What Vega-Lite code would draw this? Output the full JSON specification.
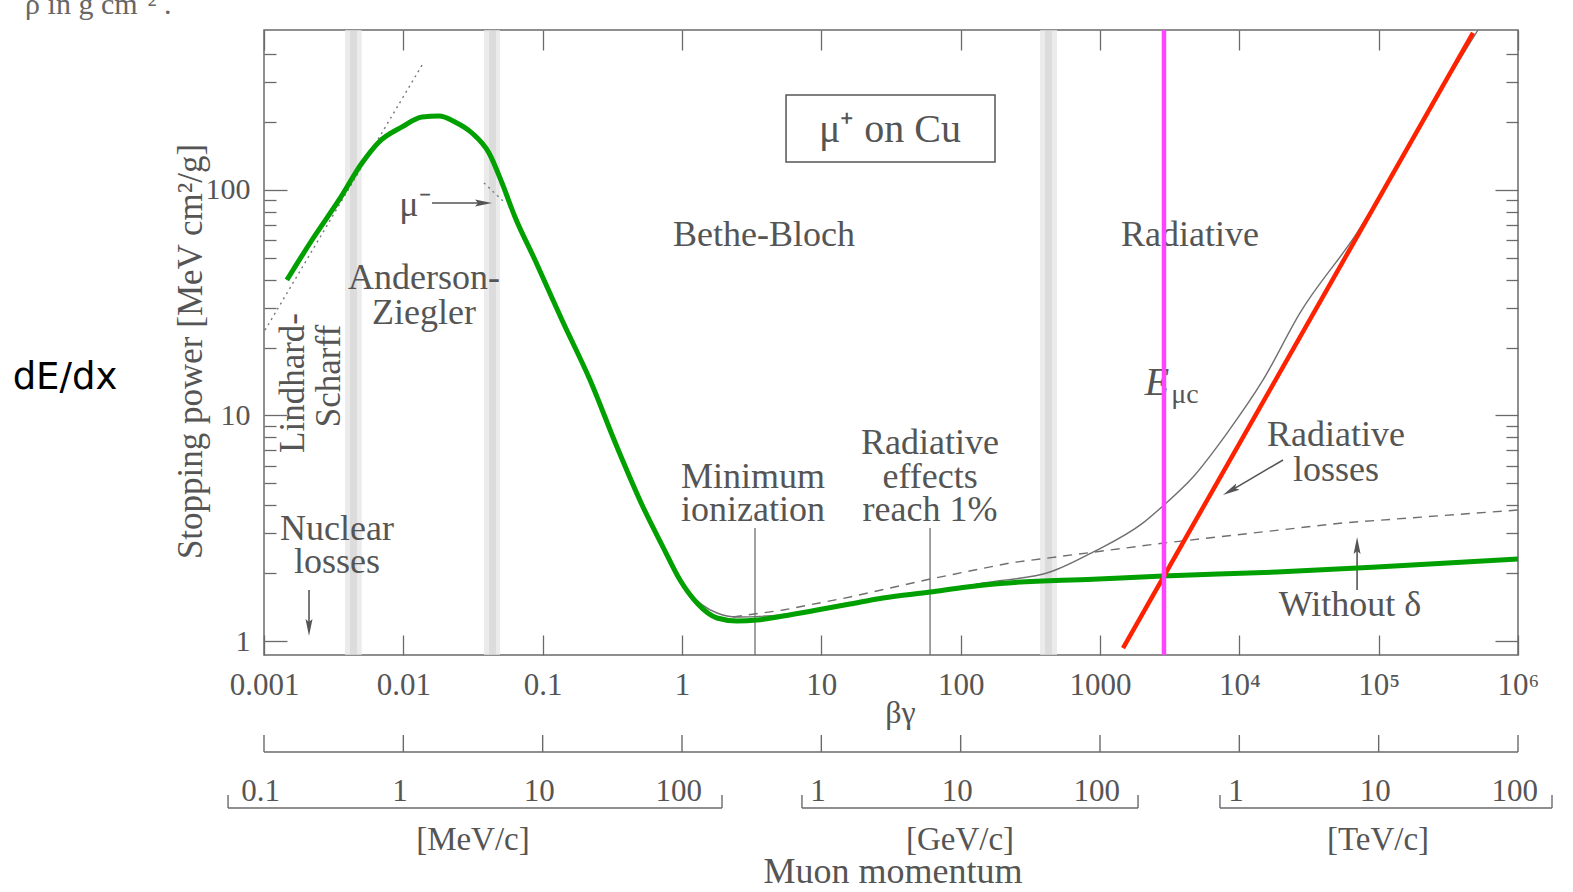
{
  "$schema": "https://vega.github.io/schema/vega-lite/v6.json",
  "width": 1254,
  "height": 625,
  "autosize": {"type": "none"},
  "padding": {"left": 264, "top": 30, "right": 55, "bottom": 237},
  "background": "white",
  "config": {
    "view": {"stroke": "#6a6a6a", "strokeWidth": 1.5},
    "text": {"font": "Liberation Serif", "fontSize": 36, "color": "#555555", "baseline": "middle", "align": "center"},
    "axis": {"grid": false, "domain": false, "tickColor": "#6a6a6a", "tickWidth": 1.3, "labelFont": "Liberation Serif", "labelColor": "#555555", "labelFontSize": 30, "titleFont": "Liberation Serif", "titleColor": "#555555", "titleFontWeight": "normal", "labelFlush": false, "labelOverlap": false}
  },
  "datasets": {
    "bandsOuter": [{"x": 0.003814, "x2": 0.005029}, {"x": 0.03793, "x2": 0.04942}, {"x": 371.2, "x2": 491.4}],
    "bandsInner": [{"x": 0.004143, "x2": 0.004652}, {"x": 0.0412, "x2": 0.04626}, {"x": 403.2, "x2": 452.4}],
    "lindhard": [{"x": 0.001017, "y": 23.9}, {"x": 0.01406, "y": 369.7}],
    "muminus": [{"x": 0.0379, "y": 107.4}, {"x": 0.0537, "y": 87.6}],
    "total": [{"x": 0.525, "y": 4.01}, {"x": 0.7306, "y": 2.666}, {"x": 0.9676, "y": 1.903}, {"x": 1.141, "y": 1.633}, {"x": 1.784, "y": 1.331}, {"x": 2.482, "y": 1.278}, {"x": 5.31, "y": 1.31}, {"x": 16.06, "y": 1.48}, {"x": 36.7, "y": 1.6}, {"x": 83.9, "y": 1.7}, {"x": 144.7, "y": 1.808}, {"x": 437.8, "y": 2.023}, {"x": 891, "y": 2.48}, {"x": 2037, "y": 3.34}, {"x": 2878, "y": 4.01}, {"x": 4656, "y": 5.34}, {"x": 8166, "y": 8.36}, {"x": 14800, "y": 14.37}, {"x": 27260, "y": 28.5}, {"x": 69900, "y": 64.5}, {"x": 198200, "y": 194}, {"x": 516000, "y": 512}],
    "noDensity": [{"x": 2.32, "y": 1.278}, {"x": 5.31, "y": 1.372}, {"x": 16.06, "y": 1.567}, {"x": 60.3, "y": 1.883}, {"x": 226, "y": 2.22}, {"x": 2878, "y": 2.72}, {"x": 55460, "y": 3.34}, {"x": 1000000, "y": 3.81}],
    "markerLines": [{"x": 3.342, "y": 3.17, "y2": 0.867}, {"x": 60.3, "y": 3.17, "y2": 0.867}],
    "labelBox": [{"x": 5.58, "x2": 176.4, "y": 263.9, "y2": 133.1}],
    "notes": [
      {"x": 3.88, "y": 63.2, "t": "Bethe-Bloch"},
      {"x": 4426, "y": 63.2, "t": "Radiative"},
      {"x": 0.01409, "y": 40.7, "t": "Anderson-"},
      {"x": 0.01409, "y": 28.5, "t": "Ziegler"},
      {"x": 0.00334, "y": 3.14, "t": "Nuclear"},
      {"x": 0.00334, "y": 2.24, "t": "losses"},
      {"x": 3.234, "y": 5.34, "t": "Minimum"},
      {"x": 3.234, "y": 3.81, "t": "ionization"},
      {"x": 60.3, "y": 7.55, "t": "Radiative"},
      {"x": 60.3, "y": 5.34, "t": "effects"},
      {"x": 60.3, "y": 3.81, "t": "reach 1%"},
      {"x": 49430, "y": 8.2, "t": "Radiative"},
      {"x": 49430, "y": 5.73, "t": "losses"},
      {"x": 62230, "y": 1.444, "t": "Without δ"},
      {"x": 0.01213, "y": 85.8, "t": "μ⁻"}
    ],
    "rotated": [{"x": 0.00162, "y": 13.94, "t": "Lindhard-"}, {"x": 0.002934, "y": 14.97, "t": "Scharff"}],
    "boxLabel": [{"x": 31.1, "y": 184.5, "t": "μ⁺ on Cu"}],
    "eLabel": [{"x": 2565, "y": 13.94, "t": "E"}],
    "ecLabel": [{"x": 4075, "y": 12.33, "t": "μc"}],
    "arrows": [
      {"x": 0.01606, "y": 87.6, "x2": 0.0367, "y2": 87.6},
      {"x": 0.002104, "y": 1.683, "x2": 0.002104, "y2": 1.166},
      {"x": 70000, "y": 1.683, "x2": 70000, "y2": 2.61},
      {"x": 20590, "y": 6.35, "x2": 8818, "y2": 4.67}
    ],
    "headRight": [{"x": 0.0367, "y": 87.6}],
    "headDown": [{"x": 0.002104, "y": 1.166}],
    "headUp": [{"x": 70000, "y": 2.61}],
    "headDiag": [{"x": 8818, "y": 4.67}],
    "pAxis": [{"x": 0.001, "x2": 1000000, "y": 0.322}],
    "pTicks": [{"x": 0.001, "y": 0.322, "y2": 0.383}, {"x": 0.01, "y": 0.322, "y2": 0.383}, {"x": 0.1, "y": 0.322, "y2": 0.383}, {"x": 1, "y": 0.322, "y2": 0.383}, {"x": 10, "y": 0.322, "y2": 0.383}, {"x": 100, "y": 0.322, "y2": 0.383}, {"x": 1000, "y": 0.322, "y2": 0.383}, {"x": 10000, "y": 0.322, "y2": 0.383}, {"x": 100000, "y": 0.322, "y2": 0.383}, {"x": 1000000, "y": 0.322, "y2": 0.383}],
    "pBrackets": [{"x": 0.000552, "x2": 1.937, "y": 0.1817}, {"x": 7.26, "x2": 1875, "y": 0.1817}, {"x": 7262, "x2": 1754000, "y": 0.1817}],
    "pBracketEnds": [{"x": 0.000552, "y": 0.1817, "y2": 0.2075}, {"x": 1.937, "y": 0.1817, "y2": 0.2075}, {"x": 7.26, "y": 0.1817, "y2": 0.2075}, {"x": 1875, "y": 0.1817, "y2": 0.2075}, {"x": 7262, "y": 0.1817, "y2": 0.2075}, {"x": 1754000, "y": 0.1817, "y2": 0.2075}],
    "pLabels": [{"x": 0.000946, "y": 0.214, "t": "0.1"}, {"x": 0.00946, "y": 0.214, "t": "1"}, {"x": 0.0946, "y": 0.214, "t": "10"}, {"x": 0.946, "y": 0.214, "t": "100"}, {"x": 9.46, "y": 0.214, "t": "1"}, {"x": 94.6, "y": 0.214, "t": "10"}, {"x": 946, "y": 0.214, "t": "100"}, {"x": 9464, "y": 0.214, "t": "1"}, {"x": 94640, "y": 0.214, "t": "10"}, {"x": 946400, "y": 0.214, "t": "100"}],
    "pUnits": [{"x": 0.0316, "y": 0.131, "t": "[MeV/c]"}, {"x": 98.9, "y": 0.131, "t": "[GeV/c]"}, {"x": 98900, "y": 0.131, "t": "[TeV/c]"}],
    "pTitle": [{"x": 32.7, "y": 0.0945, "t": "Muon momentum"}],
    "side": [{"x": 0.0000373, "y": 14.67, "t": "dE/dx"}],
    "scrap": [{"x": 0.0000193, "y": 603, "t": "ρ in g cm⁻²   ."}],
    "green": [{"x": 0.00146, "y": 39.9}, {"x": 0.00221, "y": 60.0}, {"x": 0.003454, "y": 90.3}, {"x": 0.00505, "y": 131.7}, {"x": 0.00669, "y": 163.3}, {"x": 0.00978, "y": 190.3}, {"x": 0.01361, "y": 210.7}, {"x": 0.01803, "y": 212.9}, {"x": 0.02349, "y": 200.3}, {"x": 0.03111, "y": 178.9}, {"x": 0.0412, "y": 145.9}, {"x": 0.05107, "y": 107.4}, {"x": 0.06329, "y": 75.9}, {"x": 0.0881, "y": 48.9}, {"x": 0.1376, "y": 26.5}, {"x": 0.2187, "y": 14.37}, {"x": 0.3416, "y": 7.25}, {"x": 0.525, "y": 3.93}, {"x": 0.7306, "y": 2.61}, {"x": 0.9676, "y": 1.864}, {"x": 1.281, "y": 1.474}, {"x": 1.784, "y": 1.265}, {"x": 2.482, "y": 1.227}, {"x": 3.453, "y": 1.239}, {"x": 5.31, "y": 1.291}, {"x": 9.31, "y": 1.372}, {"x": 16.06, "y": 1.459}, {"x": 27.7, "y": 1.551}, {"x": 60.3, "y": 1.649}, {"x": 111, "y": 1.736}, {"x": 191.6, "y": 1.8}, {"x": 891, "y": 1.88}, {"x": 2831, "y": 1.942}, {"x": 18620, "y": 2.023}, {"x": 97200, "y": 2.129}, {"x": 1000000, "y": 2.31}],
    "red": [{"x": 1463, "y": 0.931}, {"x": 475500, "y": 497}],
    "pink": [{"x": 2878}]
  },
  "layer": [
    {"data": {"name": "bandsOuter"}, "mark": {"type": "rect", "color": "#e4e4e4", "opacity": 0.75},
     "encoding": {"x": {"field": "x", "type": "quantitative", "scale": {"type": "log", "domain": [0.001, 1000000], "nice": false}, "axis": null}, "x2": {"field": "x2"}}},
    {"data": {"name": "bandsInner"}, "mark": {"type": "rect", "color": "#cfcfcf", "opacity": 0.55},
     "encoding": {"x": {"field": "x", "type": "quantitative", "scale": {"type": "log", "domain": [0.001, 1000000], "nice": false}, "axis": null}, "x2": {"field": "x2"}}},
    {"data": {"name": "lindhard"}, "mark": {"type": "line", "color": "#777777", "strokeWidth": 1.4, "strokeDash": [2, 4]},
     "encoding": {"x": {"field": "x", "type": "quantitative", "scale": {"type": "log", "domain": [0.001, 1000000], "nice": false}, "axis": null}, "y": {"field": "y", "type": "quantitative", "scale": {"type": "log", "domain": [0.867, 512], "nice": false}, "axis": null}}},
    {"data": {"name": "muminus"}, "mark": {"type": "line", "color": "#777777", "strokeWidth": 1.4, "strokeDash": [2, 4]},
     "encoding": {"x": {"field": "x", "type": "quantitative", "scale": {"type": "log", "domain": [0.001, 1000000], "nice": false}, "axis": null}, "y": {"field": "y", "type": "quantitative", "scale": {"type": "log", "domain": [0.867, 512], "nice": false}, "axis": null}}},
    {"data": {"name": "total"}, "mark": {"type": "line", "color": "#6f6f6f", "strokeWidth": 1.4, "interpolate": "monotone"},
     "encoding": {
       "x": {"field": "x", "type": "quantitative", "scale": {"type": "log", "domain": [0.001, 1000000], "nice": false}, "axis": {"orient": "top", "values": [0.001, 0.01, 0.1, 1, 10, 100, 1000, 10000, 100000, 1000000], "tickSize": -20, "labels": false, "title": null}},
       "y": {"field": "y", "type": "quantitative", "scale": {"type": "log", "domain": [0.867, 512], "nice": false}, "axis": {"orient": "right", "values": [1, 10, 100], "tickSize": -23, "labels": false, "title": null}}}},
    {"data": {"name": "noDensity"}, "mark": {"type": "line", "color": "#6f6f6f", "strokeWidth": 1.4, "strokeDash": [9, 7]},
     "encoding": {
       "x": {"field": "x", "type": "quantitative", "scale": {"type": "log", "domain": [0.001, 1000000], "nice": false}, "axis": null},
       "y": {"field": "y", "type": "quantitative", "scale": {"type": "log", "domain": [0.867, 512], "nice": false}, "axis": {"orient": "left", "values": [2, 3, 4, 5, 6, 7, 8, 9, 20, 30, 40, 50, 60, 70, 80, 90, 200, 300, 400], "tickSize": -12, "labels": false, "title": null}}}},
    {"data": {"name": "markerLines"}, "mark": {"type": "rule", "color": "#6f6f6f", "strokeWidth": 1.3},
     "encoding": {"x": {"field": "x", "type": "quantitative", "scale": {"type": "log", "domain": [0.001, 1000000], "nice": false}, "axis": null}, "y": {"field": "y", "type": "quantitative", "scale": {"type": "log", "domain": [0.867, 512], "nice": false}, "axis": null}, "y2": {"field": "y2"}}},
    {"data": {"name": "labelBox"}, "mark": {"type": "rect", "filled": false, "color": "#555555", "strokeWidth": 1.5},
     "encoding": {"x": {"field": "x", "type": "quantitative", "scale": {"type": "log", "domain": [0.001, 1000000], "nice": false}, "axis": null}, "x2": {"field": "x2"}, "y": {"field": "y", "type": "quantitative", "scale": {"type": "log", "domain": [0.867, 512], "nice": false}, "axis": null}, "y2": {"field": "y2"}}},
    {"data": {"name": "notes"}, "mark": {"type": "text"},
     "encoding": {"x": {"field": "x", "type": "quantitative", "scale": {"type": "log", "domain": [0.001, 1000000], "nice": false}, "axis": null}, "y": {"field": "y", "type": "quantitative", "scale": {"type": "log", "domain": [0.867, 512], "nice": false}, "axis": null}, "text": {"field": "t"}}},
    {"data": {"name": "rotated"}, "mark": {"type": "text", "angle": 270, "fontSize": 35},
     "encoding": {"x": {"field": "x", "type": "quantitative", "scale": {"type": "log", "domain": [0.001, 1000000], "nice": false}, "axis": null}, "y": {"field": "y", "type": "quantitative", "scale": {"type": "log", "domain": [0.867, 512], "nice": false}, "axis": null}, "text": {"field": "t"}}},
    {"data": {"name": "boxLabel"}, "mark": {"type": "text", "fontSize": 40},
     "encoding": {"x": {"field": "x", "type": "quantitative", "scale": {"type": "log", "domain": [0.001, 1000000], "nice": false}, "axis": null}, "y": {"field": "y", "type": "quantitative", "scale": {"type": "log", "domain": [0.867, 512], "nice": false}, "axis": null}, "text": {"field": "t"}}},
    {"data": {"name": "eLabel"}, "mark": {"type": "text", "fontSize": 40, "fontStyle": "italic"},
     "encoding": {"x": {"field": "x", "type": "quantitative", "scale": {"type": "log", "domain": [0.001, 1000000], "nice": false}, "axis": null}, "y": {"field": "y", "type": "quantitative", "scale": {"type": "log", "domain": [0.867, 512], "nice": false}, "axis": null}, "text": {"field": "t"}}},
    {"data": {"name": "ecLabel"}, "mark": {"type": "text", "fontSize": 28},
     "encoding": {"x": {"field": "x", "type": "quantitative", "scale": {"type": "log", "domain": [0.001, 1000000], "nice": false}, "axis": null}, "y": {"field": "y", "type": "quantitative", "scale": {"type": "log", "domain": [0.867, 512], "nice": false}, "axis": null}, "text": {"field": "t"}}},
    {"data": {"name": "arrows"}, "mark": {"type": "rule", "color": "#555555", "strokeWidth": 1.6},
     "encoding": {"x": {"field": "x", "type": "quantitative", "scale": {"type": "log", "domain": [0.001, 1000000], "nice": false}, "axis": null}, "y": {"field": "y", "type": "quantitative", "scale": {"type": "log", "domain": [0.867, 512], "nice": false}, "axis": null}, "x2": {"field": "x2"}, "y2": {"field": "y2"}}},
    {"data": {"name": "headRight"}, "mark": {"type": "point", "shape": "M0,-1L0.35,0.7L0,0.4L-0.35,0.7Z", "filled": true, "color": "#555555", "opacity": 1, "size": 400, "angle": 90},
     "encoding": {"x": {"field": "x", "type": "quantitative", "scale": {"type": "log", "domain": [0.001, 1000000], "nice": false}, "axis": null}, "y": {"field": "y", "type": "quantitative", "scale": {"type": "log", "domain": [0.867, 512], "nice": false}, "axis": null}}},
    {"data": {"name": "headDown"}, "mark": {"type": "point", "shape": "M0,-1L0.35,0.7L0,0.4L-0.35,0.7Z", "filled": true, "color": "#555555", "opacity": 1, "size": 400, "angle": 180},
     "encoding": {"x": {"field": "x", "type": "quantitative", "scale": {"type": "log", "domain": [0.001, 1000000], "nice": false}, "axis": null}, "y": {"field": "y", "type": "quantitative", "scale": {"type": "log", "domain": [0.867, 512], "nice": false}, "axis": null}}},
    {"data": {"name": "headUp"}, "mark": {"type": "point", "shape": "M0,-1L0.35,0.7L0,0.4L-0.35,0.7Z", "filled": true, "color": "#555555", "opacity": 1, "size": 400, "angle": 0},
     "encoding": {"x": {"field": "x", "type": "quantitative", "scale": {"type": "log", "domain": [0.001, 1000000], "nice": false}, "axis": null}, "y": {"field": "y", "type": "quantitative", "scale": {"type": "log", "domain": [0.867, 512], "nice": false}, "axis": null}}},
    {"data": {"name": "headDiag"}, "mark": {"type": "point", "shape": "M0,-1L0.35,0.7L0,0.4L-0.35,0.7Z", "filled": true, "color": "#555555", "opacity": 1, "size": 400, "angle": 241},
     "encoding": {"x": {"field": "x", "type": "quantitative", "scale": {"type": "log", "domain": [0.001, 1000000], "nice": false}, "axis": null}, "y": {"field": "y", "type": "quantitative", "scale": {"type": "log", "domain": [0.867, 512], "nice": false}, "axis": null}}},
    {"data": {"name": "pAxis"}, "mark": {"type": "rule", "color": "#6a6a6a", "strokeWidth": 1.4},
     "encoding": {"x": {"field": "x", "type": "quantitative", "scale": {"type": "log", "domain": [0.001, 1000000], "nice": false}, "axis": null}, "x2": {"field": "x2"}, "y": {"field": "y", "type": "quantitative", "scale": {"type": "log", "domain": [0.867, 512], "nice": false}, "axis": null}}},
    {"data": {"name": "pTicks"}, "mark": {"type": "rule", "color": "#6a6a6a", "strokeWidth": 1.4},
     "encoding": {"x": {"field": "x", "type": "quantitative", "scale": {"type": "log", "domain": [0.001, 1000000], "nice": false}, "axis": null}, "y": {"field": "y", "type": "quantitative", "scale": {"type": "log", "domain": [0.867, 512], "nice": false}, "axis": null}, "y2": {"field": "y2"}}},
    {"data": {"name": "pBrackets"}, "mark": {"type": "rule", "color": "#6a6a6a", "strokeWidth": 1.4},
     "encoding": {"x": {"field": "x", "type": "quantitative", "scale": {"type": "log", "domain": [0.001, 1000000], "nice": false}, "axis": null}, "x2": {"field": "x2"}, "y": {"field": "y", "type": "quantitative", "scale": {"type": "log", "domain": [0.867, 512], "nice": false}, "axis": null}}},
    {"data": {"name": "pBracketEnds"}, "mark": {"type": "rule", "color": "#6a6a6a", "strokeWidth": 1.4},
     "encoding": {"x": {"field": "x", "type": "quantitative", "scale": {"type": "log", "domain": [0.001, 1000000], "nice": false}, "axis": null}, "y": {"field": "y", "type": "quantitative", "scale": {"type": "log", "domain": [0.867, 512], "nice": false}, "axis": null}, "y2": {"field": "y2"}}},
    {"data": {"name": "pLabels"}, "mark": {"type": "text", "fontSize": 31},
     "encoding": {"x": {"field": "x", "type": "quantitative", "scale": {"type": "log", "domain": [0.001, 1000000], "nice": false}, "axis": null}, "y": {"field": "y", "type": "quantitative", "scale": {"type": "log", "domain": [0.867, 512], "nice": false}, "axis": null}, "text": {"field": "t"}}},
    {"data": {"name": "pUnits"}, "mark": {"type": "text", "fontSize": 33},
     "encoding": {"x": {"field": "x", "type": "quantitative", "scale": {"type": "log", "domain": [0.001, 1000000], "nice": false}, "axis": null}, "y": {"field": "y", "type": "quantitative", "scale": {"type": "log", "domain": [0.867, 512], "nice": false}, "axis": null}, "text": {"field": "t"}}},
    {"data": {"name": "pTitle"}, "mark": {"type": "text", "fontSize": 36},
     "encoding": {"x": {"field": "x", "type": "quantitative", "scale": {"type": "log", "domain": [0.001, 1000000], "nice": false}, "axis": null}, "y": {"field": "y", "type": "quantitative", "scale": {"type": "log", "domain": [0.867, 512], "nice": false}, "axis": null}, "text": {"field": "t"}}},
    {"data": {"name": "side"}, "mark": {"type": "text", "font": "DejaVu Sans", "fontSize": 37, "color": "#000000"},
     "encoding": {"x": {"field": "x", "type": "quantitative", "scale": {"type": "log", "domain": [0.001, 1000000], "nice": false}, "axis": null}, "y": {"field": "y", "type": "quantitative", "scale": {"type": "log", "domain": [0.867, 512], "nice": false}, "axis": null}, "text": {"field": "t"}}},
    {"data": {"name": "scrap"}, "mark": {"type": "text", "fontSize": 30, "align": "left", "baseline": "alphabetic", "color": "#666666"},
     "encoding": {"x": {"field": "x", "type": "quantitative", "scale": {"type": "log", "domain": [0.001, 1000000], "nice": false}, "axis": null}, "y": {"field": "y", "type": "quantitative", "scale": {"type": "log", "domain": [0.867, 512], "nice": false}, "axis": null}, "text": {"field": "t"}}},
    {"data": {"name": "green"}, "mark": {"type": "line", "color": "#00a000", "strokeWidth": 5, "interpolate": "monotone"},
     "encoding": {
       "x": {"field": "x", "type": "quantitative", "scale": {"type": "log", "domain": [0.001, 1000000], "nice": false},
             "axis": {"orient": "bottom", "values": [0.001, 0.01, 0.1, 1, 10, 100, 1000, 10000, 100000, 1000000], "tickSize": -20, "labelPadding": 50, "labelBaseline": "middle", "labelAlign": "center", "labelFontSize": 31,
                      "labelExpr": "datum.value < 1 ? format(datum.value, '~g') : datum.value <= 1000 ? format(datum.value, 'd') : datum.value == 10000 ? '10⁴' : datum.value == 100000 ? '10⁵' : '10⁶'",
                      "title": "βγ", "titleFontSize": 32, "titleX": 636, "titleY": 57, "titleBaseline": "middle", "titleAlign": "center", "titleAngle": 0}},
       "y": {"field": "y", "type": "quantitative", "scale": {"type": "log", "domain": [0.867, 512], "nice": false},
             "axis": {"orient": "left", "values": [1, 10, 100], "format": "~g", "tickSize": -23, "labelPadding": 37, "labelBaseline": "middle", "labelAlign": "right", "labelFontSize": 30,
                      "title": "Stopping power [MeV cm²/g]", "titleFontSize": 35, "titleAngle": 270, "titleX": -74, "titleY": 321, "titleBaseline": "middle", "titleAlign": "center"}}}},
    {"data": {"name": "red"}, "mark": {"type": "line", "color": "#ff2200", "strokeWidth": 4.5},
     "encoding": {
       "x": {"field": "x", "type": "quantitative", "scale": {"type": "log", "domain": [0.001, 1000000], "nice": false}, "axis": null},
       "y": {"field": "y", "type": "quantitative", "scale": {"type": "log", "domain": [0.867, 512], "nice": false}, "axis": {"orient": "right", "values": [2, 3, 4, 5, 6, 7, 8, 9, 20, 30, 40, 50, 60, 70, 80, 90, 200, 300, 400], "tickSize": -12, "labels": false, "title": null}}}},
    {"data": {"name": "pink"}, "mark": {"type": "rule", "color": "#ff44ff", "strokeWidth": 4.5},
     "encoding": {"x": {"field": "x", "type": "quantitative", "scale": {"type": "log", "domain": [0.001, 1000000], "nice": false}, "axis": null}}}
  ],
  "resolve": {"axis": {"x": "independent", "y": "independent"}}
}
